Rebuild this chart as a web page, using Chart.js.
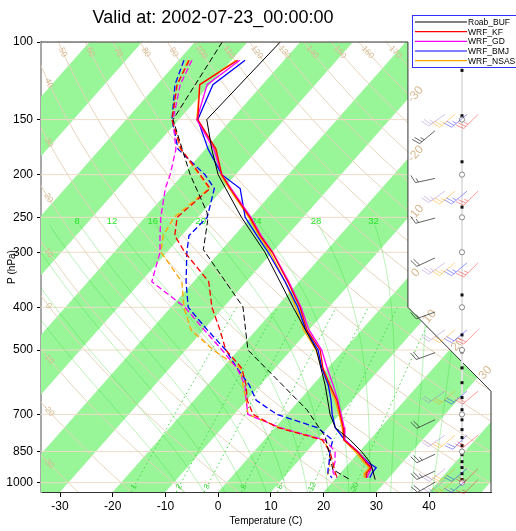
<!DOCTYPE html>
<html>
<head>
<meta charset="utf-8">
<script src="https://cdn.jsdelivr.net/npm/chart.js@4.4.1/dist/chart.umd.min.js"></script>
<style>
  html, body { margin: 0; padding: 0; background: #fff; }
</style>
</head>
<body>
<canvas id="skewt" width="516" height="531"></canvas>
<script>
// ---- sounding data ----
var pTicks = [100, 150, 200, 250, 300, 400, 500, 700, 850, 1000];
var tTicks = [-30, -20, -10, 0, 10, 20, 30, 40];

// Buffalo radiosonde
var roabP   = [100, 150, 175, 200, 250, 300, 400, 500, 600, 700, 750, 800, 850, 900, 925, 984];
var roabT   = [-63.8, -64.7, -58.8, -53.3, -41.7, -31.4, -16.8, -5.2, 2.3, 8.2, 11.4, 16.3, 20.4, 23.9, 25.1, 27.7];
var roabTdP = [100, 150, 200, 244, 254, 296, 399, 500, 683, 786, 934, 984];
var roabTd  = [-74.8, -71.1, -58.6, -49.0, -47.6, -43.5, -26.4, -18.2, 3.0, 11.0, 18.0, 22.9];

// WRF runs, interpolated to the same levels
var wrfP   = [110, 125, 150, 175, 200, 215, 250, 275, 300, 350, 400, 450, 500, 550, 600, 650, 700, 750, 800, 850, 900, 925, 950, 975];
var kfT    = [-68.8, -71.9, -66.4, -58.0, -52.6, -48.7, -40.1, -35.1, -30.0, -22.1, -15.5, -10.4, -4.5, -0.9, 3.2, 7.1, 10.1, 12.9, 15.1, 19.6, 23.1, 24.9, 25.0, 25.7];
var kfTd   = [-78.0, -76.2, -71.3, -64.6, -56.7, -52.5, -53.9, -51.3, -46.6, -37.1, -32.2, -26.9, -22.4, -16.3, -12.7, -9.9, -6.4, 0.5, 11.0, 14.4, 16.8, 17.9, 19.0, 20.2];
var gdT    = [-68.4, -70.5, -66.6, -58.4, -52.6, -48.5, -39.9, -34.9, -29.9, -21.9, -15.3, -10.0, -4.2, -0.1, 3.8, 7.3, 10.3, 13.1, 15.3, 19.7, 23.3, 25.1, 25.4, 25.9];
var gdTd   = [-77.5, -75.6, -71.1, -65.6, -62.4, -61.0, -57.0, -54.1, -51.3, -47.9, -37.3, -29.9, -23.1, -17.2, -12.9, -10.1, -7.4, 0.9, 11.5, 15.4, 17.2, 17.7, 18.6, 20.2];
var bmjT   = [-67.4, -69.4, -66.4, -59.5, -52.6, -46.8, -41.0, -35.7, -30.8, -22.6, -15.9, -10.6, -4.9, -1.1, 2.9, 6.0, 8.6, 11.4, 15.3, 19.6, 23.5, 25.9, 26.0, 26.4];
var bmjTd  = [-79.0, -76.6, -71.3, -65.2, -55.8, -51.7, -48.2, -48.6, -46.2, -41.4, -36.7, -29.3, -22.4, -17.2, -12.1, -8.2, -1.9, 8.0, 13.0, 14.4, 16.1, 16.8, 17.6, 19.2];
var nsasT  = [-69.1, -71.9, -66.6, -58.2, -52.8, -48.9, -40.3, -35.3, -30.4, -22.6, -16.3, -11.0, -5.3, -1.1, 2.9, 6.8, 9.9, 12.7, 15.1, 19.2, 22.7, 24.6, 24.6, 25.3];
var nsasTd = [-78.2, -76.2, -71.3, -64.8, -56.9, -52.7, -54.5, -53.5, -51.1, -42.2, -37.5, -32.4, -24.8, -16.6, -13.3, -10.1, -7.4, 0.9, 11.2, 14.4, 16.1, 17.2, 17.6, 18.3];

// winds (knots, degrees)
var roabWindP   = [159, 204, 251, 309, 410, 507, 720, 862, 941, 998];
var roabWindSpd = [25, 15, 15, 20, 15, 20, 20, 25, 25, 20];
var roabWindDir = [230, 258, 255, 245, 250, 250, 245, 245, 245, 240];
var wrfWindP    = [146, 218, 317, 450, 620, 780, 929, 984];
var kfWindSpd   = [25, 25, 25, 20, 20, 20, 20, 15];
var kfWindDir   = [225, 225, 225, 225, 230, 230, 225, 225];
var gdWindSpd   = [25, 25, 25, 20, 20, 20, 20, 15];
var gdWindDir   = [235, 235, 235, 235, 235, 235, 230, 230];
var bmjWindSpd  = [25, 25, 25, 20, 20, 20, 20, 15];
var bmjWindDir  = [230, 230, 230, 230, 230, 225, 230, 230];
var nsasWindSpd = [25, 25, 25, 20, 20, 20, 20, 15];
var nsasWindDir = [230, 230, 230, 230, 230, 230, 230, 230];

// height marks along the wind column
var mandP   = [100, 150, 200, 250, 300, 400, 500, 700, 850, 1000];
var heightP = [116, 147, 187, 237, 300, 375, 462, 505, 549, 593, 641, 683, 720, 758, 790, 824, 864, 896, 924, 954, 984];

// background line sets
var dryTheta  = [-40, -30, -20, -10, 0, 10, 20, 30, 40, 50, 60, 70, 80, 90, 100, 110, 120, 130, 140, 150, 160, 170, 180, 190, 200];
var moistThw  = [-8, -4, 0, 4, 8, 12, 16, 20, 24, 28, 32, 36, 40];
var mixRatio  = [1, 2, 3, 5, 8, 12, 20];
var isoLabels = [-30, -20, -10, 0, 10, 20, 30];

// ---- skew-T geometry ----
var SKEW = 32.14, PBOT = 1050, PTOP = 100;
var XMIN = -33.61, XMAX = 51.76;
function skewX(t, p) { return t + SKEW * Math.log(PBOT / p); }
// outline of the diagram, in skewed x and pressure
var frame = [[XMIN, PTOP], [36.0, PTOP], [36.0, 400], [XMAX, 620], [XMAX, PBOT], [XMIN, PBOT]];

var FONT = '"Liberation Sans", Helvetica, Arial, sans-serif';

function profile(ps, ts) {
  return ps.map(function (p, i) { return { x: skewX(ts[i], p), y: p }; });
}

var series = [
  { name: 'Roab_BUF', color: '#000000', tp: roabP, t: roabT, dp: roabTdP, td: roabTd, w: 1 },
  { name: 'WRF_KF',   color: '#ff0000', tp: wrfP, t: kfT,   dp: wrfP, td: kfTd,   w: 1.3 },
  { name: 'WRF_GD',   color: '#ff00ff', tp: wrfP, t: gdT,   dp: wrfP, td: gdTd,   w: 1.3 },
  { name: 'WRF_BMJ',  color: '#0000ff', tp: wrfP, t: bmjT,  dp: wrfP, td: bmjTd,  w: 1.3 },
  { name: 'WRF_NSAS', color: '#ffa500', tp: wrfP, t: nsasT, dp: wrfP, td: nsasTd, w: 1.3 }
];

var datasets = [];
series.forEach(function (s) {
  datasets.push({ label: s.name, data: profile(s.tp, s.t), borderColor: s.color, borderWidth: s.w,
    pointRadius: 0, tension: 0, fill: false });
  datasets.push({ label: s.name + ' Td', data: profile(s.dp, s.td), borderColor: s.color, borderWidth: s.w,
    borderDash: [6, 3], pointRadius: 0, tension: 0, fill: false });
});

// pseudo-adiabatic lapse rate dT/dp (K per hPa)
function moistLapse(T, p) {
  var tc = T - 273.15;
  var es = 6.112 * Math.exp(17.67 * tc / (tc + 243.5));
  var rs = 0.622 * es / (p - es);
  var num = (287.04 * T + 2.501e6 * rs) / p;
  var den = 1005.7 + (2.501e6 * 2.501e6 * rs * 0.622) / (287.04 * T * T);
  return num / den;
}
function stepMoist(T, p, dp) {
  var k1 = moistLapse(T, p), k2 = moistLapse(T + k1 * dp, p + dp);
  return T + 0.5 * (k1 + k2) * dp;
}
// saturated adiabat through (thw, P0), from the bottom of the diagram up to ptop
var P0 = 1025;
function moistPath(thw, ptop) {
  var T = thw + 273.15, p, pts = [];
  for (p = P0; p < PBOT; p += 5) T = stepMoist(T, p, 5);
  pts.push([T - 273.15, PBOT]);
  for (p = PBOT; p > ptop; p -= 5) { T = stepMoist(T, p, -5); pts.push([T - 273.15, p - 5]); }
  return pts;
}
function mixTd(w, p) {
  var e = w * p / (622 + w), l = Math.log(e / 6.112);
  return 243.5 * l / (17.67 - l);
}
function dryT(th, p) { return (th + 273.15) * Math.pow(p / 1000, 0.286) - 273.15; }

// background diagram: bands, isobars, adiabats, mixing ratio lines
var skewBackground = {
  id: 'skewBackground',
  beforeDatasetsDraw: function (chart) {
    var ctx = chart.ctx, xs = chart.scales.x, ys = chart.scales.y;
    function P(X, p) { return [xs.getPixelForValue(X), ys.getPixelForValue(p)]; }
    function tp(t, p) { return P(skewX(t, p), p); }
    function polyline(pts) {
      ctx.beginPath();
      pts.forEach(function (q, i) { if (i) ctx.lineTo(q[0], q[1]); else ctx.moveTo(q[0], q[1]); });
      ctx.stroke();
    }
    function label(txt, q, ang, color, size) {
      ctx.save();
      ctx.translate(q[0], q[1]); ctx.rotate(ang);
      ctx.fillStyle = color; ctx.font = size + 'px ' + FONT;
      ctx.textAlign = 'center'; ctx.textBaseline = 'middle';
      ctx.fillText(txt, 0, 0);
      ctx.restore();
    }
    ctx.save();
    ctx.beginPath();
    frame.forEach(function (f, i) { var q = P(f[0], f[1]); if (i) ctx.lineTo(q[0], q[1]); else ctx.moveTo(q[0], q[1]); });
    ctx.closePath();
    ctx.clip();

    // alternating 10-degree isotherm bands
    ctx.fillStyle = 'rgb(152,245,152)';
    for (var t = -120; t < 70; t += 20) {
      var a = tp(t, PBOT), b = tp(t + 10, PBOT), c = tp(t + 10, PTOP), d = tp(t, PTOP);
      ctx.beginPath(); ctx.moveTo(a[0], a[1]); ctx.lineTo(b[0], b[1]); ctx.lineTo(c[0], c[1]); ctx.lineTo(d[0], d[1]); ctx.closePath(); ctx.fill();
    }

    // isobars
    ctx.strokeStyle = 'rgb(238,220,200)'; ctx.lineWidth = 1;
    pTicks.forEach(function (p) { polyline([P(XMIN, p), P(XMAX, p)]); });

    // dry adiabats
    ctx.strokeStyle = 'rgb(230,212,188)'; ctx.lineWidth = 1;
    dryTheta.forEach(function (th) {
      var pts = [];
      for (var p = PBOT; p >= PTOP; p -= 10) pts.push(tp(dryT(th, p), p));
      polyline(pts);
    });

    // saturated adiabats
    ctx.strokeStyle = 'rgba(60,220,60,0.45)'; ctx.lineWidth = 0.8;
    moistThw.forEach(function (thw) {
      polyline(moistPath(thw, 262).map(function (m) { return tp(m[0], m[1]); }));
    });

    // mixing ratio lines
    ctx.strokeStyle = 'rgb(70,215,70)'; ctx.lineWidth = 1; ctx.setLineDash([1.5, 3]);
    mixRatio.forEach(function (w) {
      var pts = [];
      for (var p = PBOT; p >= 400; p -= 10) pts.push(tp(mixTd(w, p), p));
      polyline(pts);
    });
    ctx.setLineDash([]);

    // labels
    dryTheta.forEach(function (th) {
      var q, q2, p;
      if (th >= 50) {
        q = tp(dryT(th, 105.5), 105.5); q2 = tp(dryT(th, 115), 115);
      } else {
        // where the adiabat meets the left edge
        for (p = PTOP; p < PBOT; p += 1) { if (skewX(dryT(th, p), p) > XMIN + 1.4) break; }
        q = tp(dryT(th, p), p); q2 = tp(dryT(th, p + 10), p + 10);
      }
      if (q[0] > xs.getPixelForValue(36.0) - 4) return;
      label(String(th), q, Math.atan2(q2[1] - q[1], q2[0] - q[0]), 'rgb(215,185,145)', 8.5);
    });
    moistThw.forEach(function (thw) {
      var m = moistPath(thw, 256), last = m[m.length - 1], q = tp(last[0], last[1]);
      if (q[0] < chart.chartArea.left + 15) return;
      label(String(thw), q, 0, 'rgb(40,230,40)', 9.5);
    });
    mixRatio.forEach(function (w) {
      var q = tp(mixTd(w, 1022), 1022), q2 = tp(mixTd(w, 980), 980);
      label(String(w), q, Math.atan2(q2[1] - q[1], q2[0] - q[0]), 'rgb(60,215,60)', 8);
    });
    ctx.restore();
  },
  afterDatasetsDraw: function (chart) {
    var ctx = chart.ctx, xs = chart.scales.x, ys = chart.scales.y;
    function P(X, p) { return [xs.getPixelForValue(X), ys.getPixelForValue(p)]; }
    ctx.save();
    // top and right outline
    ctx.strokeStyle = '#333'; ctx.lineWidth = 1;
    ctx.beginPath();
    frame.slice(0, 5).forEach(function (f, i) { var q = P(f[0], f[1]); if (i) ctx.lineTo(q[0], q[1]); else ctx.moveTo(q[0], q[1]); });
    ctx.stroke();

    // isotherm labels where they leave the diagram
    var xr = P(36.0, 400), xd = P(XMAX, 620);
    function edgeX(y) {
      if (y <= xr[1]) return xr[0];
      if (y >= xd[1]) return xd[0];
      return xr[0] + (y - xr[1]) * (xd[0] - xr[0]) / (xd[1] - xr[1]);
    }
    isoLabels.forEach(function (t) {
      for (var p = PTOP; p <= PBOT; p += 1) {
        var q = P(skewX(t, p), p);
        if (q[0] <= edgeX(q[1])) {
          var q2 = P(skewX(t, p - 20), p - 20);
          ctx.save();
          ctx.translate(q[0] + 8, q[1] - 5);
          ctx.rotate(Math.atan2(q2[1] - q[1], q2[0] - q[0]));
          ctx.fillStyle = 'rgb(215,185,145)'; ctx.font = '12px ' + FONT;
          ctx.textAlign = 'center'; ctx.textBaseline = 'middle';
          ctx.fillText(String(t), 0, 0);
          ctx.restore();
          break;
        }
      }
    });

    // wind column with height marks
    var colX = 462;
    ctx.strokeStyle = 'rgb(225,225,225)'; ctx.lineWidth = 2;
    ctx.beginPath(); ctx.moveTo(colX, ys.getPixelForValue(PTOP)); ctx.lineTo(colX, ys.getPixelForValue(990)); ctx.stroke();
    ctx.fillStyle = '#111';
    heightP.forEach(function (p) { var y = ys.getPixelForValue(p); ctx.fillRect(colX - 1.5, y - 1.5, 3, 3); });
    ctx.strokeStyle = '#888'; ctx.lineWidth = 1;
    mandP.forEach(function (p) {
      var y = ys.getPixelForValue(p);
      ctx.fillStyle = '#fff';
      ctx.beginPath(); ctx.arc(colX, y, 2.6, 0, 2 * Math.PI); ctx.fill(); ctx.stroke();
    });

    function barb(x0, y0, spd, dir, color) {
      var L = 20, r = dir * Math.PI / 180;
      var ux = Math.sin(r), uy = -Math.cos(r), vx = -uy, vy = ux;
      ctx.strokeStyle = color; ctx.fillStyle = color; ctx.lineWidth = 1;
      ctx.beginPath(); ctx.moveTo(x0, y0); ctx.lineTo(x0 + ux * L, y0 + uy * L); ctx.stroke();
      var s = Math.round(spd / 5) * 5, pos = 0, fl = 8;
      while (s >= 10) {
        var bx = x0 + ux * (L - pos), by = y0 + uy * (L - pos);
        ctx.beginPath(); ctx.moveTo(bx, by); ctx.lineTo(bx + vx * fl + ux * 3, by + vy * fl + uy * 3); ctx.stroke();
        pos += 3; s -= 10;
      }
      if (s >= 5) {
        if (pos === 0) pos = 3;
        var hx = x0 + ux * (L - pos), hy = y0 + uy * (L - pos);
        ctx.beginPath(); ctx.moveTo(hx, hy); ctx.lineTo(hx + vx * fl / 2 + ux * 1.5, hy + vy * fl / 2 + uy * 1.5); ctx.stroke();
      }
    }
    var modelBarbs = [
      { x: 445, spd: gdWindSpd,   dir: gdWindDir,   color: 'rgba(160,120,220,0.45)' },
      { x: 455, spd: nsasWindSpd, dir: nsasWindDir, color: 'rgba(255,165,0,0.45)' },
      { x: 467, spd: bmjWindSpd,  dir: bmjWindDir,  color: 'rgba(0,0,255,0.4)' },
      { x: 478, spd: kfWindSpd,   dir: kfWindDir,   color: 'rgba(255,0,0,0.4)' }
    ];
    modelBarbs.forEach(function (m) {
      wrfWindP.forEach(function (p, i) { barb(m.x, ys.getPixelForValue(p), m.spd[i], m.dir[i], m.color); });
    });
    roabWindP.forEach(function (p, i) { barb(435, ys.getPixelForValue(p), roabWindSpd[i], roabWindDir[i], 'rgba(60,60,60,0.8)'); });
    ctx.restore();
  },
  afterDraw: function (chart) {
    var ctx = chart.ctx;
    ctx.save();
    // title
    ctx.fillStyle = '#000'; ctx.font = '18px ' + FONT;
    ctx.textAlign = 'center'; ctx.textBaseline = 'alphabetic';
    ctx.fillText('Valid at: 2002-07-23_00:00:00', 213, 23);
    // legend box
    ctx.fillStyle = '#fff'; ctx.fillRect(412, 15, 110, 53);
    ctx.strokeStyle = '#3030ff'; ctx.lineWidth = 1; ctx.strokeRect(412.5, 15.5, 110, 52);
    ctx.font = '8.5px ' + FONT; ctx.textAlign = 'left'; ctx.textBaseline = 'middle';
    series.forEach(function (s, i) {
      var y = 22 + i * 9.67;
      ctx.strokeStyle = s.color; ctx.lineWidth = 1.2;
      ctx.beginPath(); ctx.moveTo(415, y); ctx.lineTo(467, y); ctx.stroke();
      ctx.fillStyle = '#000'; ctx.fillText(s.name, 468, y + 0.5);
    });
    ctx.restore();
  }
};

new Chart(document.getElementById('skewt'), {
  type: 'line',
  data: { datasets: datasets },
  options: {
    responsive: false,
    animation: false,
    devicePixelRatio: 1,
    layout: { padding: { left: 0, top: 42, right: 25, bottom: 0 } },
    plugins: { legend: { display: false }, tooltip: { enabled: false } },
    scales: {
      x: {
        type: 'linear', min: XMIN, max: XMAX,
        afterBuildTicks: function (s) { s.ticks = tTicks.map(function (v) { return { value: v }; }); },
        afterFit: function (s) { s.height = 39; },
        grid: { drawOnChartArea: false, tickLength: 5, color: '#000' },
        border: { color: '#333', width: 1 },
        ticks: { color: '#000', font: { size: 12, family: FONT }, padding: 2, maxRotation: 0, autoSkip: false },
        title: { display: true, text: 'Temperature (C)', color: '#000', font: { size: 10, family: FONT }, padding: { top: 0, bottom: 4 } }
      },
      y: {
        type: 'logarithmic', reverse: true, min: PTOP, max: PBOT,
        afterBuildTicks: function (s) { s.ticks = pTicks.map(function (v) { return { value: v }; }); },
        afterFit: function (s) { s.width = 41; },
        grid: { drawOnChartArea: false, tickLength: 4, color: '#000' },
        border: { color: '#a8a8a8', width: 2 },
        ticks: { color: '#000', font: { size: 12, family: FONT }, padding: 4, autoSkip: false,
          callback: function (v) { return String(v); } },
        title: { display: true, text: 'P (hPa)', color: '#000', font: { size: 10, family: FONT }, padding: { top: 6, bottom: 0 } }
      }
    }
  },
  plugins: [skewBackground]
});
</script>
</body>
</html>
